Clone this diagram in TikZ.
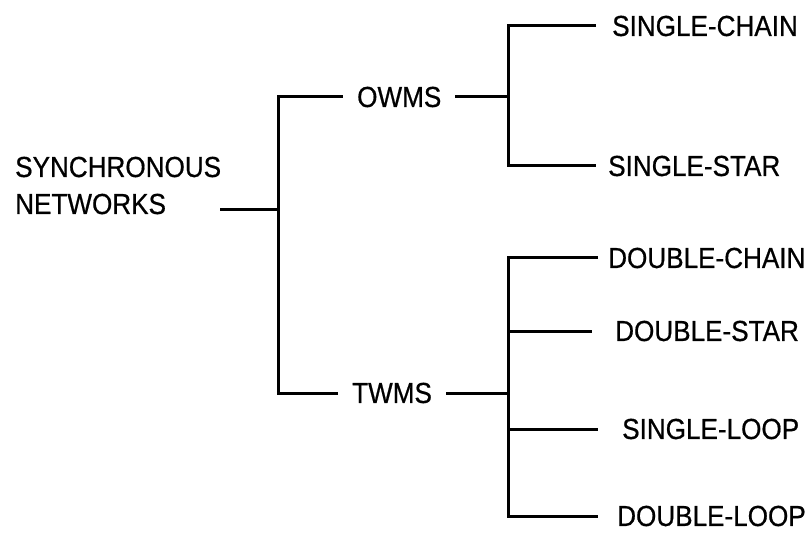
\documentclass[tikz,border=0pt]{standalone}
\usepackage{fontspec}
\setmainfont{Liberation Sans}[FakeStretch=0.9,FakeBold=0.6]
\begin{document}
\begin{tikzpicture}[x=1pt,y=-1pt,
  conn/.style={line width=3pt,line cap=butt,line join=miter},
  txt/.style={font=\fontsize{29}{37}\selectfont,inner ysep=0pt},
  mid/.style={txt,inner xsep=14pt},
  leaf/.style={txt,anchor=west,inner xsep=#1}]
\useasboundingbox (0,0) rectangle (810,534);

% root
\node[txt,inner xsep=0pt,anchor=base west,align=left] (root) at (15,214) {SYNCHRONOUS\\NETWORKS};
\coordinate (r0) at (220,210);
\coordinate (j0) at (278,210);

% second level
\node[mid,anchor=west] (owms) at (343,97) {OWMS};
\node[mid,anchor=west] (twms) at (338,393) {TWMS};
\coordinate (j1) at (508,97);
\coordinate (j2) at (508,393);

% leaves
\node[leaf=16pt] (sc) at (596,26) {SINGLE-CHAIN};
\node[leaf=12pt] (ss) at (596,166) {SINGLE-STAR};
\node[leaf=10pt] (dc) at (598,258) {DOUBLE-CHAIN};
\node[leaf=23pt] (ds) at (592,331) {DOUBLE-STAR};
\node[leaf=24pt] (sl) at (598,429) {SINGLE-LOOP};
\node[leaf=19pt] (dl) at (598,516) {DOUBLE-LOOP};

% connectors
\draw[conn] (r0) -- (j0);
\draw[conn] (twms.west) -| (j0) |- (owms.west);
\draw[conn] (owms.east) -- (j1);
\draw[conn] (sc.west) -| (j1) |- (ss.west);
\draw[conn] (twms.east) -- (j2);
\draw[conn] (dc.west) -| (j2) |- (dl.west);
\draw[conn] (j2 |- ds.west) -- (ds.west);
\draw[conn] (j2 |- sl.west) -- (sl.west);
\end{tikzpicture}
\end{document}
